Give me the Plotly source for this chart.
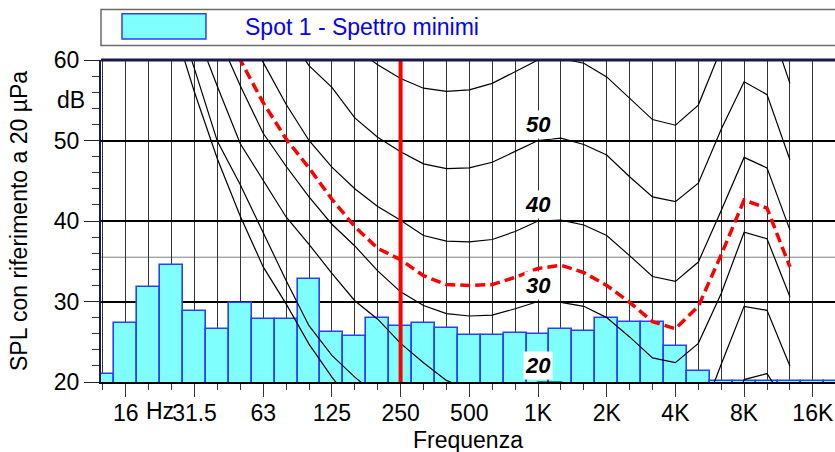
import numpy as np
import plotly.graph_objects as go

# ---------------- data ----------------
band_freqs = [12.5, 16, 20, 25, 31.5, 40, 50, 63, 80, 100, 125, 160, 200, 250, 315, 400,
              500, 630, 800, 1000, 1250, 1600, 2000, 2500, 3150, 4000, 5000, 6300, 8000,
              10000, 12500, 16000, 20000]
spectrum_db = [21.05, 27.3, 31.8, 34.5, 28.85, 26.6, 29.8, 27.8, 27.8, 32.75, 26.2, 25.7, 27.9,
               26.9, 27.3, 26.7, 25.9, 25.8, 26.05, 25.95, 26.6, 26.3, 27.9, 27.5, 27.4, 24.5,
               21.4, 20.1, 20.1, 20.1, 20.1, 20.1, 20.1]

contour_freqs = [20, 25, 31.5, 40, 50, 63, 80, 100, 125, 160, 200, 250, 315, 400, 500, 630, 800,
                 1000, 1250, 1600, 2000, 2500, 3150, 4000, 5000, 6300, 8000, 10000, 12500]
contour_0 = [78, 65.1, 56.0, 47.7, 40.6, 34.3, 29.7, 24.7, 20.6, 17.0, 14.3, 11.8, 9.5, 7.5, 6.0,
             5.0, 4.5, 4.5, 5.0, 4.0, 1.5, -1.0, -3.0, -3.5, -1.0, 4.0, 10.5, 11.5, 7.0]
contour_10 = [80, 67.5, 58.9, 49.9, 44.5, 38.6, 32.6, 27.0, 23.3, 20.6, 18.2, 16.0, 14.3, 12.9,
              12.0, 11.5, 11.0, 10.0, 10.5, 9.5, 7.5, 5.0, 3.0, 2.5, 4.5, 12.0, 20.3, 21.05, 16.6]
contour_20 = [84, 71.5, 64.1, 56.7, 49.6, 45.0, 40.5, 37.1, 33.5, 30.1, 27.8, 24.8, 22.4, 20.2,
              19.0, 18.6, 19.0, 20.0, 20.0, 19.3, 18.0, 15.6, 13.0, 12.4, 14.8, 22.2, 29.4, 28.9, 22.0]
contour_30 = [90, 80, 71, 63.2, 56.8, 50.9, 46.8, 43.0, 39.6, 36.9, 33.8, 31.2, 29.5, 28.5, 28.2,
              28.3, 29.1, 30.0, 29.9, 29.4, 28.0, 25.6, 23.0, 22.4, 24.8, 31.0, 38.6, 37.8, 30.6]
contour_40 = [96, 86, 78, 71.5, 65.3, 59.7, 54.5, 50.0, 46.7, 44.0, 41.8, 40.1, 38.2, 37.5, 37.4,
              37.7, 38.7, 40.0, 40.1, 39.5, 38.2, 35.7, 33.1, 32.5, 34.9, 41.3, 47.9, 46.6, 38.9]
contour_50 = [102, 93, 86, 79, 73, 68, 63.5, 59.3, 56.6, 52.8, 50.4, 48.6, 47.1, 46.5, 46.6,
              47.3, 48.6, 50.0, 50.3, 49.5, 48.2, 45.5, 43.0, 42.4, 44.7, 51.4, 57.3, 55.7, 47.6]
contour_60 = [108, 100, 93, 86, 80, 75, 70.5, 67, 64, 61.5, 59.4, 57.7, 56.5, 56.1, 56.3, 57.1,
              58.5, 60.0, 60.2, 59.6, 57.9, 55.2, 52.6, 51.9, 54.4, 61.4, 67.0, 65.5, 57.1]
min_contour = [92, 82, 74, 66.5, 60.0, 54.7, 50.2, 46.6, 42.7, 39.3, 36.6, 35.2, 33.2, 32.1, 32.0,
               32.1, 33.0, 34.1, 34.5, 33.6, 32.0, 29.9, 27.5, 26.6, 29.4, 35.8, 42.6, 41.6, 34.3]
labelled_levels = [50, 40, 30, 20]

octave_ticks = [16, 31.5, 63, 125, 250, 500, 1000, 2000, 4000, 8000, 16000]
octave_labels = ["16", "31.5", "63", "125", "250", "500", "1K", "2K", "4K", "8K", "16K"]
marker_freq = 250
reference_level = 35.5
series_name = "Spot 1 - Spettro minimi"
x_title = "Frequenza"
y_title = "SPL con riferimento a 20 µPa"

FONT = "Liberation Sans, Arial, sans-serif"


def pos(f):
    # position of a 1/3-octave band on the logarithmic frequency scale
    return np.round(10 * np.log10(np.asarray(f, dtype=float))) / 10


fig = go.Figure()

fig.add_trace(go.Bar(
    x=pos(band_freqs), y=spectrum_db, width=0.1, name=series_name,
    marker=dict(color="#80FFFF", line=dict(color="#2a40ff", width=1.6)),
    showlegend=False,
))

for vals in [contour_0, contour_10, contour_20, contour_30, contour_40, contour_50, contour_60]:
    fig.add_trace(go.Scatter(
        x=pos(contour_freqs), y=vals, mode="lines",
        line=dict(color="black", width=1.2), showlegend=False, hoverinfo="skip",
    ))

fig.add_trace(go.Scatter(
    x=pos(contour_freqs), y=min_contour, mode="lines",
    line=dict(color="#ff0000", width=3.5, dash="10px,5px"), showlegend=False,
))

# contour level labels at 1 kHz
for lv in labelled_levels:
    fig.add_annotation(
        x=pos(1000), y=lv + 2, xref="x", yref="y", text=f"<b><i>{lv}</i></b>",
        showarrow=False, bgcolor="white", borderpad=1,
        font=dict(family=FONT, size=22, color="black"),
    )

# reference / marker lines
fig.add_shape(type="line", xref="x domain", yref="y", x0=0, x1=1,
              y0=reference_level, y1=reference_level,
              line=dict(color="#808080", width=1), layer="below")
fig.add_shape(type="line", xref="x", yref="y domain", x0=pos(marker_freq), x1=pos(marker_freq),
              y0=0, y1=1, line=dict(color="#ff0000", width=4), layer="above")
fig.add_shape(type="line", xref="x domain", yref="y domain", x0=0, x1=1, y0=1, y1=1,
              line=dict(color="#1a1a4a", width=3), layer="above")

# legend box (drawn manually)
fig.add_shape(type="rect", xref="paper", yref="paper", x0=0, x1=1.01, y0=1.045, y1=1.157,
              line=dict(color="#6a6a6a", width=1.5), fillcolor="white", layer="above")
fig.add_shape(type="rect", xref="paper", yref="paper", x0=0.0286, x1=0.143, y0=1.0652, y1=1.1438,
              line=dict(color="#2a40ff", width=1.5), fillcolor="#80FFFF", layer="above")
fig.add_annotation(x=0.1935, y=1.104, xref="paper", yref="paper", xanchor="left", yanchor="middle",
                   text=series_name, showarrow=False,
                   font=dict(family=FONT, size=23, color="#0000ff"))

# "Hz" after the first octave label and "dB" unit on the y axis
fig.add_annotation(x=pos(16), y=0, xref="x", yref="paper", xanchor="left", yanchor="top",
                   xshift=18, yshift=-14, text="Hz", showarrow=False,
                   font=dict(family=FONT, size=23, color="black"))
fig.add_annotation(x=0, y=55, xref="paper", yref="y", xanchor="right", yanchor="middle",
                   xshift=-14, text="dB", showarrow=False,
                   font=dict(family=FONT, size=23, color="black"))

# x axis title
fig.add_annotation(x=0.5, y=-0.18, xref="paper", yref="paper", xanchor="center", yanchor="middle",
                   text=x_title, showarrow=False,
                   font=dict(family=FONT, size=23, color="black"))

fig.update_layout(
    width=835, height=452,
    margin=dict(l=101, r=0, t=60, b=70),
    paper_bgcolor="white", plot_bgcolor="white",
    font=dict(family=FONT, size=23, color="black"),
    bargap=0,
    xaxis=dict(
        range=[1.0917, 4.2969], tickmode="array",
        tickvals=pos(octave_ticks), ticktext=octave_labels,
        ticks="outside", ticklen=13, tickcolor="#333", tickwidth=1,
        ticklabelstandoff=-4, automargin=False,
        showgrid=True, gridcolor="#333", gridwidth=1,
        minor=dict(tickmode="array", tickvals=pos(band_freqs), ticks="outside", ticklen=6,
                   tickcolor="#333", showgrid=True, gridcolor="#333", gridwidth=1),
        showline=True, linecolor="black", linewidth=2, zeroline=False,
        tickfont=dict(family=FONT, size=23),
    ),
    yaxis=dict(
        range=[20, 60], tickmode="array", tickvals=[20, 30, 40, 50, 60],
        ticks="outside", ticklen=15, tickcolor="#222", tickwidth=1, automargin=False,
        showgrid=True, gridcolor="black", gridwidth=2,
        minor=dict(dtick=2, ticks="outside", ticklen=7, tickcolor="#333", showgrid=False),
        showline=True, linecolor="#1a1a4a", linewidth=2, zeroline=False,
        tickfont=dict(family=FONT, size=23),
        title=dict(text=y_title, font=dict(family=FONT, size=23), standoff=20),
    ),
)

fig.write_html("out.html")
